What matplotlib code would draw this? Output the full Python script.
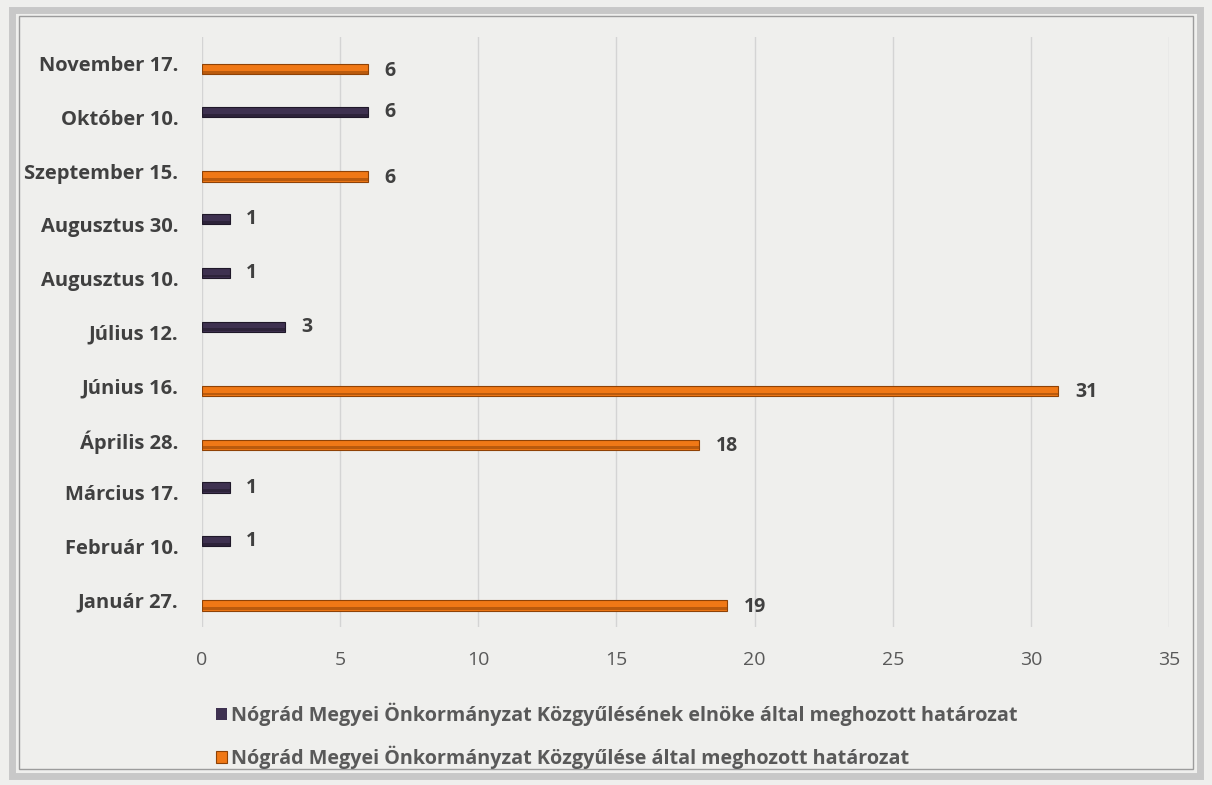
import matplotlib
matplotlib.use("Agg")
import matplotlib.pyplot as plt
import numpy as np
from matplotlib.patches import Rectangle

categories = ["Január 27.", "Február 10.", "Március 17.", "Április 28.", "Június 16.",
              "Július 12.", "Augusztus 10.", "Augusztus 30.", "Szeptember 15.",
              "Október 10.", "November 17."]
elnok_values = [0, 1, 1, 0, 0, 3, 1, 1, 0, 6, 0]
kozgyules_values = [19, 0, 0, 18, 31, 0, 0, 0, 6, 0, 6]
series_names = ["Nógrád Megyei Önkormányzat Közgyűlésének elnöke által meghozott határozat",
                "Nógrád Megyei Önkormányzat Közgyűlése által meghozott határozat"]
x_ticks = [0, 5, 10, 15, 20, 25, 30, 35]

plt.rcParams['font.family'] = ['Open Sans', 'DejaVu Sans']
purple = "#3e3150"
purple_dark = "#1f1829"
orange = "#f07816"
orange_dark = "#8f4206"
text_col = "#404040"

fig = plt.figure(figsize=(12.12, 7.85), dpi=100)
fig.patch.set_facecolor("#efefed")

# frame
fig.patches.append(Rectangle((0.010, 0.012), 0.980, 0.975, transform=fig.transFigure,
                             fill=False, edgecolor="#c8c8c8", linewidth=5))
fig.patches.append(Rectangle((0.016, 0.020), 0.968, 0.960, transform=fig.transFigure,
                             fill=False, edgecolor="#9c9c9c", linewidth=1))

ax = fig.add_axes([202/1212, 1-627/785, (1169-202)/1212, (627-37)/785])
ax.set_facecolor("none")

y = np.arange(len(categories))
h = 0.19
off = 0.1

def draw(vals, ypos, col, dark):
    lw = [0.8 if v else 0 for v in vals]
    bars = ax.barh(ypos, vals, height=h, color=col, edgecolor=dark, linewidth=lw, zorder=3)
    # darker lower bevel band
    ax.barh(ypos - h * 0.3, vals, height=h * 0.28, color=dark, alpha=0.55, linewidth=0, zorder=4)
    return bars

b1 = draw(elnok_values, y + off, purple, purple_dark)
b2 = draw(kozgyules_values, y - off, orange, orange_dark)

for yy, v in zip(y, elnok_values):
    if v:
        ax.annotate(str(v), (v, yy + off), xytext=(12, 0), textcoords="offset points",
                    ha="left", va="center", fontsize=14, fontweight="bold", color=text_col)
for yy, v in zip(y, kozgyules_values):
    if v:
        ax.annotate(str(v), (v, yy - off), xytext=(12, -1), textcoords="offset points",
                    ha="left", va="center", fontsize=14, fontweight="bold", color=text_col)

ax.set_xlim(0, 35)
ax.set_ylim(-0.5, len(categories) - 0.5)
ax.set_xticks(x_ticks)
ax.set_xticklabels([str(t) for t in x_ticks], fontsize=14, color="#595959")
ax.set_yticks(y)
ax.set_yticklabels(categories, fontsize=14.5, fontweight="bold", color=text_col)
ax.tick_params(axis="both", length=0)
ax.tick_params(axis="x", pad=17)
ax.tick_params(axis="y", pad=17)
for s in ax.spines.values():
    s.set_visible(False)
ax.grid(axis="x", color="#d4d4d4", linewidth=1, zorder=0)
ax.set_axisbelow(True)

leg = fig.legend([b1, b2], series_names, loc="upper left", bbox_to_anchor=(206/1212, 1-693/785),
                 ncol=1, frameon=False, fontsize=14.2, handlelength=0.55, handleheight=0.55,
                 handletextpad=0.2, labelspacing=0.98, borderpad=0)
for t in leg.get_texts():
    t.set_fontweight("bold")
    t.set_color("#595959")

fig.savefig("out.png", dpi=100, facecolor=fig.get_facecolor())
